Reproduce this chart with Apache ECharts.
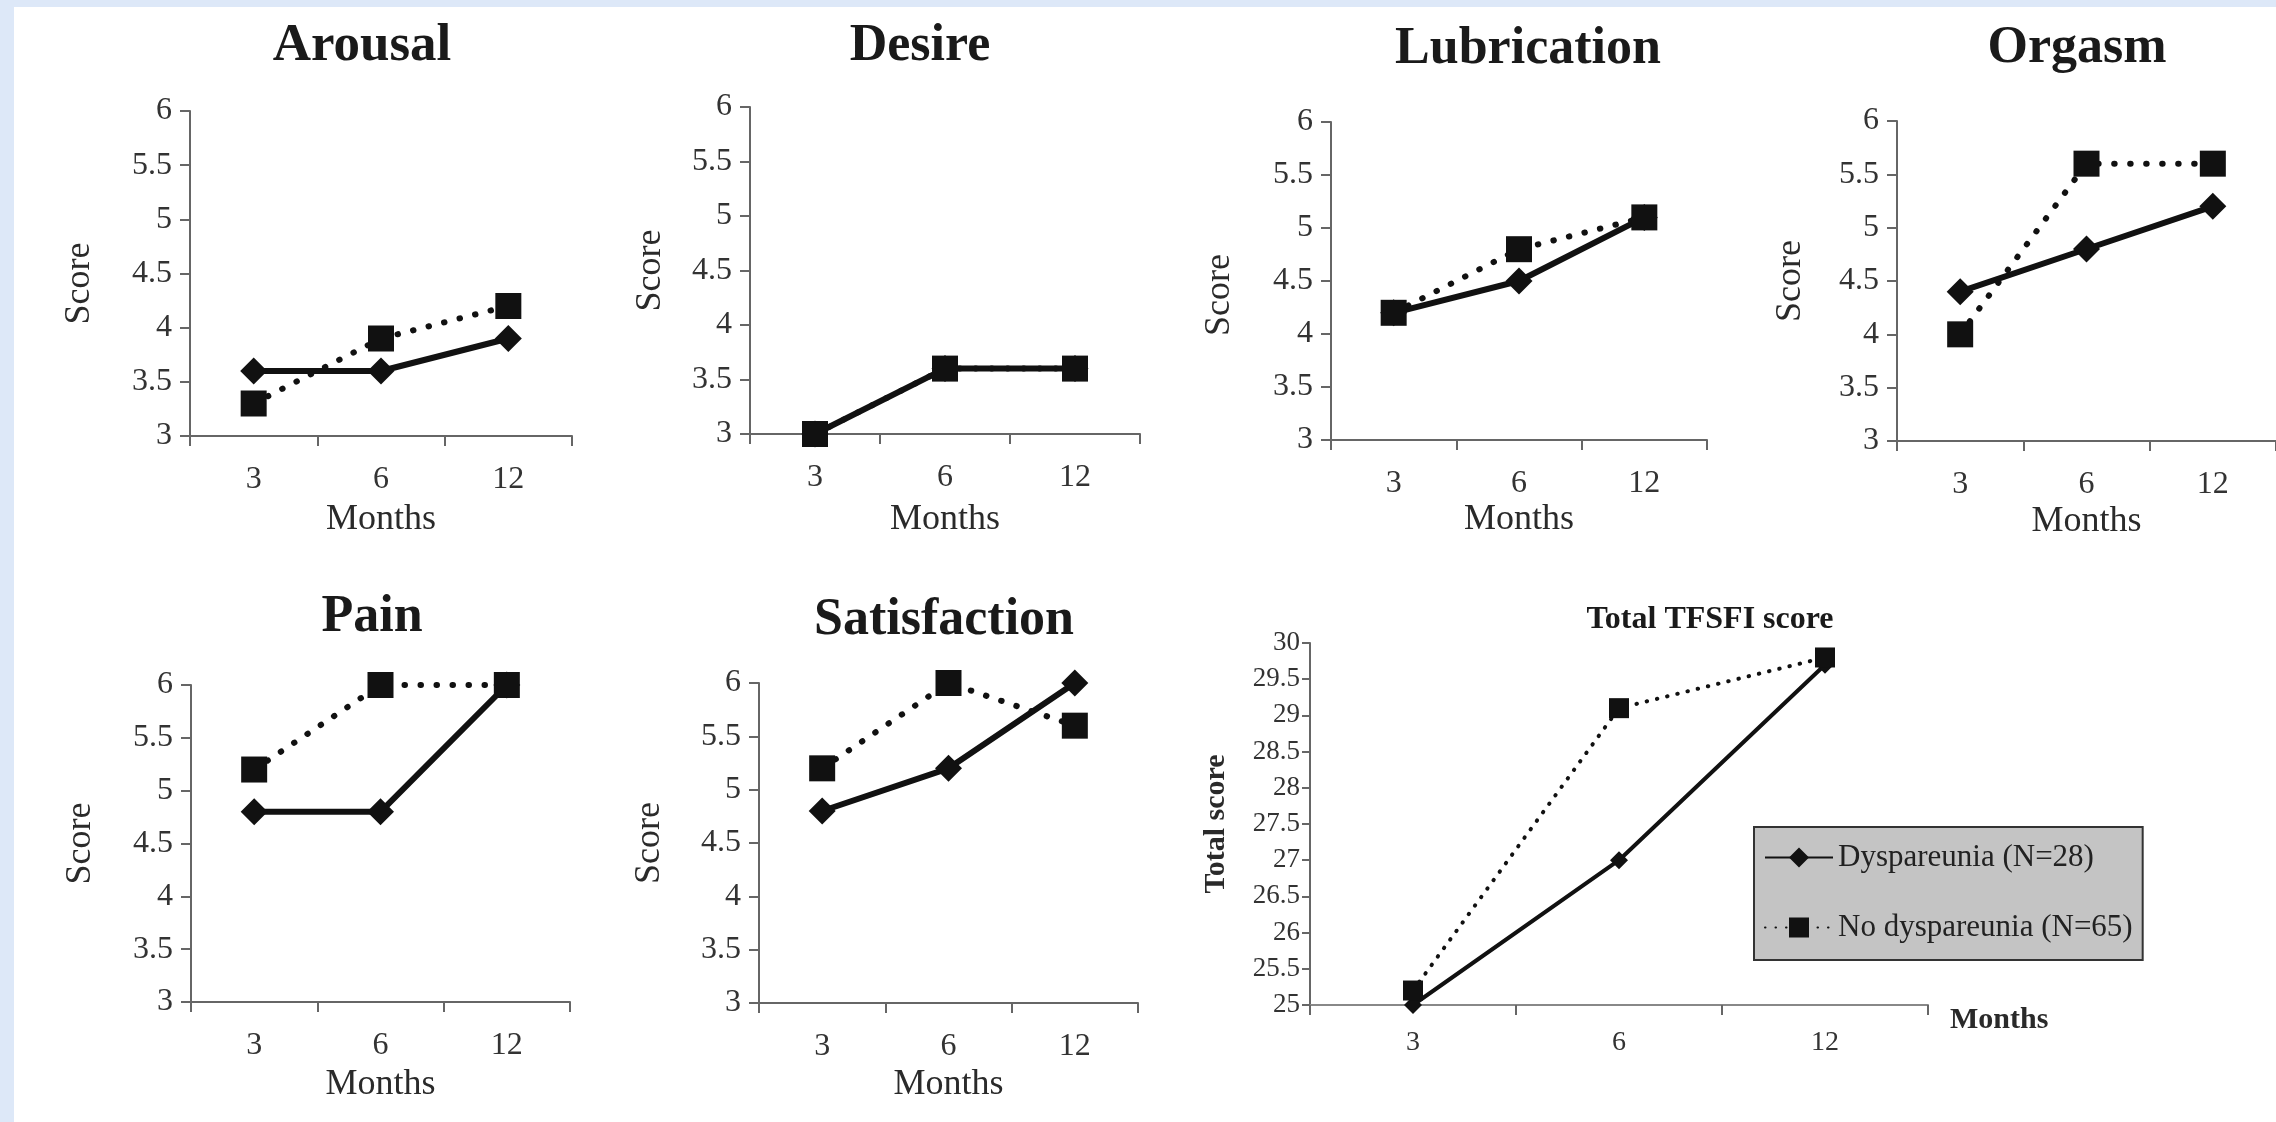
<!DOCTYPE html>
<html>
<head>
<meta charset="utf-8">
<script src="https://cdn.jsdelivr.net/npm/echarts@6/dist/echarts.min.js"></script>
<style>
html,body{margin:0;padding:0;background:#dde8f8;overflow:hidden;}
#panel{position:absolute;left:14px;top:7px;width:2262px;height:1115px;background:#ffffff;}
#chart{position:absolute;left:0;top:0;width:2276px;height:1122px;}
</style>
</head>
<body>
<div id="panel"></div>
<div id="chart"></div>
<script>
// ---- data ----
const months = ['3', '6', '12'];
const panelTitles = ['Arousal', 'Desire', 'Lubrication', 'Orgasm', 'Pain', 'Satisfaction', 'Total TFSFI score'];
const seriesNames = ['Dyspareunia (N=28)', 'No dyspareunia (N=65)'];

const arousalDysp = [3.6, 3.6, 3.9];
const arousalNoDysp = [3.3, 3.9, 4.2];
const desireDysp = [3.0, 3.6, 3.6];
const desireNoDysp = [3.0, 3.6, 3.6];
const lubricationDysp = [4.2, 4.5, 5.1];
const lubricationNoDysp = [4.2, 4.8, 5.1];
const orgasmDysp = [4.4, 4.8, 5.2];
const orgasmNoDysp = [4.0, 5.6, 5.6];
const painDysp = [4.8, 4.8, 6.0];
const painNoDysp = [5.2, 6.0, 6.0];
const satisfactionDysp = [4.8, 5.2, 6.0];
const satisfactionNoDysp = [5.2, 6.0, 5.6];
const totalDysp = [25.0, 27.0, 29.7];
const totalNoDysp = [25.2, 29.1, 29.8];

const scoreRange = [3, 6, 0.5];     // min, max, step of the domain axes
const totalRange = [25, 30, 0.5];   // min, max, step of the total axis

const dyspData = [arousalDysp, desireDysp, lubricationDysp, orgasmDysp, painDysp, satisfactionDysp, totalDysp];
const noDyspData = [arousalNoDysp, desireNoDysp, lubricationNoDysp, orgasmNoDysp, painNoDysp, satisfactionNoDysp, totalNoDysp];

// ---- layout ----
const FONT = '"Liberation Serif", "Times New Roman", serif';
const layout = [
  {left: 190, top: 111, width: 382, height: 325, gapY: 92, gapX: 66, tx: 362, ty: 46, shiftY: 10},
  {left: 750, top: 107, width: 390, height: 327, gapY: 81, gapX: 68, tx: 920, ty: 47, shiftY: 0},
  {left: 1331, top: 122, width: 376, height: 318, gapY: 93, gapX: 62, tx: 1528, ty: 50, shiftY: 14},
  {left: 1897, top: 121, width: 379, height: 320, gapY: 88, gapX: 63, tx: 2077, ty: 49, shiftY: 0},
  {left: 191, top: 685, width: 379, height: 317, gapY: 92, gapX: 65, tx: 372, ty: 618, shiftY: 0},
  {left: 759, top: 683, width: 379, height: 320, gapY: 91, gapX: 64, tx: 944, ty: 621, shiftY: 0},
  {left: 1310, top: 643, width: 618, height: 362, gapY: 79, gapX: 22, tx: 1710, ty: 620, shiftY: 0}
];

const axisColor = '#666';
const textColor = '#2a2a2a';
const inkColor = '#111';

const grids = [], xAxes = [], yAxes = [], titles = [], series = [];

layout.forEach((L, i) => {
  const isTotal = i === 6;
  grids.push({left: L.left, top: L.top, width: L.width, height: L.height, containLabel: false, outerBoundsMode: 'none'});
  titles.push({
    text: panelTitles[i], left: L.tx, top: L.ty, textAlign: 'center', textVerticalAlign: 'middle', padding: 0,
    textStyle: {fontFamily: FONT, fontWeight: 'bold', fontSize: isTotal ? 32 : (i === 0 ? 53 : 52), color: '#1a1a1a'}
  });
  const r = isTotal ? totalRange : scoreRange;
  yAxes.push({
    gridIndex: i, type: 'value', min: r[0], max: r[1], interval: r[2],
    axisLine: {show: true, lineStyle: {color: axisColor, width: 2}},
    axisTick: {show: true, length: isTotal ? 8 : 10, lineStyle: {color: axisColor, width: 2}},
    splitLine: {show: false},
    axisLabel: {fontFamily: FONT, fontSize: isTotal ? 27 : 32, color: '#333', margin: isTotal ? 10 : 18},
    name: isTotal ? 'Total score' : 'Score', nameLocation: 'middle', nameGap: L.gapY,
    nameTextStyle: {
      fontFamily: FONT, fontSize: isTotal ? 30 : 36, fontWeight: isTotal ? 'bold' : 'normal', color: textColor,
      padding: [0, 2 * L.shiftY, 0, 0]
    }
  });
  xAxes.push({
    gridIndex: i, type: 'category', data: months, boundaryGap: true,
    axisLine: {show: true, lineStyle: {color: isTotal ? '#888' : axisColor, width: 2}},
    axisTick: {show: true, length: 10, lineStyle: {color: axisColor, width: 2}},
    axisLabel: {fontFamily: FONT, fontSize: isTotal ? 28 : 32, color: '#333', margin: isTotal ? 24 : 28},
    name: 'Months', nameLocation: isTotal ? 'end' : 'middle', nameGap: L.gapX,
    nameTextStyle: isTotal
      ? {fontFamily: FONT, fontSize: 30, fontWeight: 'bold', color: textColor, verticalAlign: 'top'}
      : {fontFamily: FONT, fontSize: 36, color: textColor}
  });
});

function addSeries(i) {
  const isTotal = i === 6;
  const lw = isTotal ? 4 : 6;
  series.push({
    name: seriesNames[0], type: 'line', xAxisIndex: i, yAxisIndex: i, data: dyspData[i],
    symbol: 'diamond', symbolSize: isTotal ? 18 : 27,
    lineStyle: {color: inkColor, width: lw, type: 'solid'},
    itemStyle: {color: inkColor}, emphasis: {disabled: true}
  });
  series.push({
    name: seriesNames[1], type: 'line', xAxisIndex: i, yAxisIndex: i, data: noDyspData[i],
    symbol: 'rect', symbolSize: isTotal ? 20 : 26,
    lineStyle: {color: inkColor, width: lw, type: isTotal ? [0.5, 10] : [0.5, 15.5], cap: 'round'},
    itemStyle: {color: inkColor}, emphasis: {disabled: true}
  });
}
addSeries(6);
for (let i = 0; i < 6; i++) addSeries(i);

const chart = echarts.init(document.getElementById('chart'), null, {renderer: 'canvas'});
chart.setOption({
  animation: false,
  backgroundColor: 'transparent',
  title: titles,
  grid: grids,
  xAxis: xAxes,
  yAxis: yAxes,
  legend: {
    data: seriesNames, left: 1754, top: 827, orient: 'vertical',
    backgroundColor: '#c4c4c4', borderColor: '#333', borderWidth: 2,
    padding: [15, 10, 17, 10], itemWidth: 68, itemHeight: 25, itemGap: 39,
    selectedMode: false,
    textStyle: {fontFamily: FONT, fontSize: 31, color: '#222'}
  },
  series: series
});
</script>
</body>
</html>
